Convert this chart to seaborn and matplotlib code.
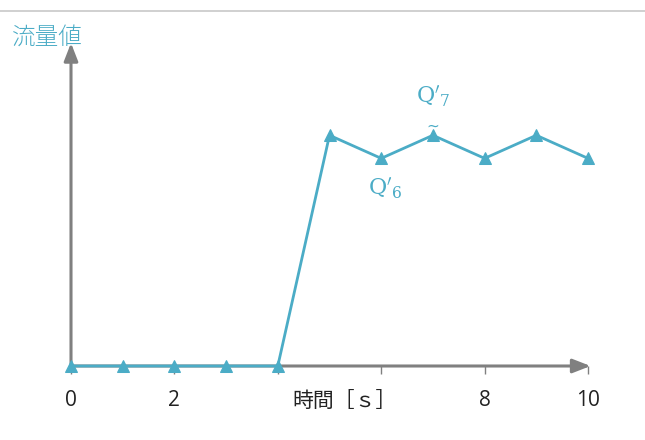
import matplotlib
matplotlib.use("Agg")
import matplotlib.pyplot as plt
import seaborn as sns
import pandas as pd
from matplotlib.lines import Line2D

# data
time_s = [0, 1, 2, 3, 4, 5, 6, 7, 8, 9, 10]
flow = [0, 0, 0, 0, 0, 1.0, 0.9, 1.0, 0.9, 1.0, 0.9]
tick_pos = [0, 2, 4, 6, 8, 10]
tick_labels = ["0", "2", "", "", "8", "10"]
y_label = "流量値"
x_label = "時間［ｓ］"

sns.set_theme(style="white")
plt.rcParams['font.family'] = ['Open Sans', 'Noto Sans CJK JP', 'DejaVu Sans']
plt.rcParams['mathtext.fontset'] = 'dejavuserif'

BLUE = "#4BACC6"
GRAY = "#808080"

fig = plt.figure(figsize=(6.45, 4.4), dpi=100)
W, H = 645, 440
x0_px, x10_px = 71, 588
y0_px, ytop_px = 366, 43
ax = fig.add_axes([x0_px / W, (H - y0_px) / H, (x10_px - x0_px) / W, (y0_px - ytop_px) / H])
ax.set_xlim(0, 10)
ax.set_ylim(0, 1.4)
for s in ax.spines.values():
    s.set_visible(False)

# axes arrows
ax.annotate("", xy=(10.05, 0), xytext=(0, 0), xycoords="data",
            arrowprops=dict(arrowstyle="-|>,head_length=0.9,head_width=0.35", color=GRAY, lw=2.2,
                            shrinkA=0, shrinkB=0), annotation_clip=False)
ax.annotate("", xy=(0, 1.4), xytext=(0, 0), xycoords="data",
            arrowprops=dict(arrowstyle="-|>,head_length=0.9,head_width=0.35", color=GRAY, lw=2.2,
                            shrinkA=0, shrinkB=0), annotation_clip=False)

df = pd.DataFrame({"t": time_s, "q": flow})
sns.lineplot(data=df, x="t", y="q", ax=ax, color=BLUE, lw=2, marker="^", markersize=9,
             markeredgecolor=BLUE, clip_on=False, zorder=5)

ax.set_xticks(tick_pos)
ax.set_xticklabels(tick_labels)
ax.set_yticks([])
ax.tick_params(axis="x", direction="out", length=6, width=1, color=GRAY, pad=11,
               labelsize=15, labelcolor="#222222", bottom=True)
ax.set_xlabel("")
ax.set_ylabel("")

ax.text(5.3, -0.15, x_label, ha="center", va="center", fontsize=15, color="#222222",
        family=['Noto Sans CJK JP', 'DejaVu Sans'])

fig.text(12 / W, (H - 37) / H, y_label, ha="left", va="center", fontsize=17, color=BLUE,
         family=['Noto Sans CJK JP', 'DejaVu Sans'], fontweight="light")

ax.text(7.0, 1.17, r"$\mathrm{Q}'_{7}$", ha="center", va="center", fontsize=16, color=BLUE)
ax.text(7.0, 1.04, "~", ha="center", va="center", fontsize=11, color=BLUE, family="DejaVu Sans")
ax.text(6.08, 0.77, r"$\mathrm{Q}'_{6}$", ha="center", va="center", fontsize=16, color=BLUE)

fig.add_artist(Line2D([0, 1], [(H - 11) / H, (H - 11) / H], color="#c8c8c8", lw=1.2,
                      transform=fig.transFigure))

fig.savefig("out.png", dpi=100)
